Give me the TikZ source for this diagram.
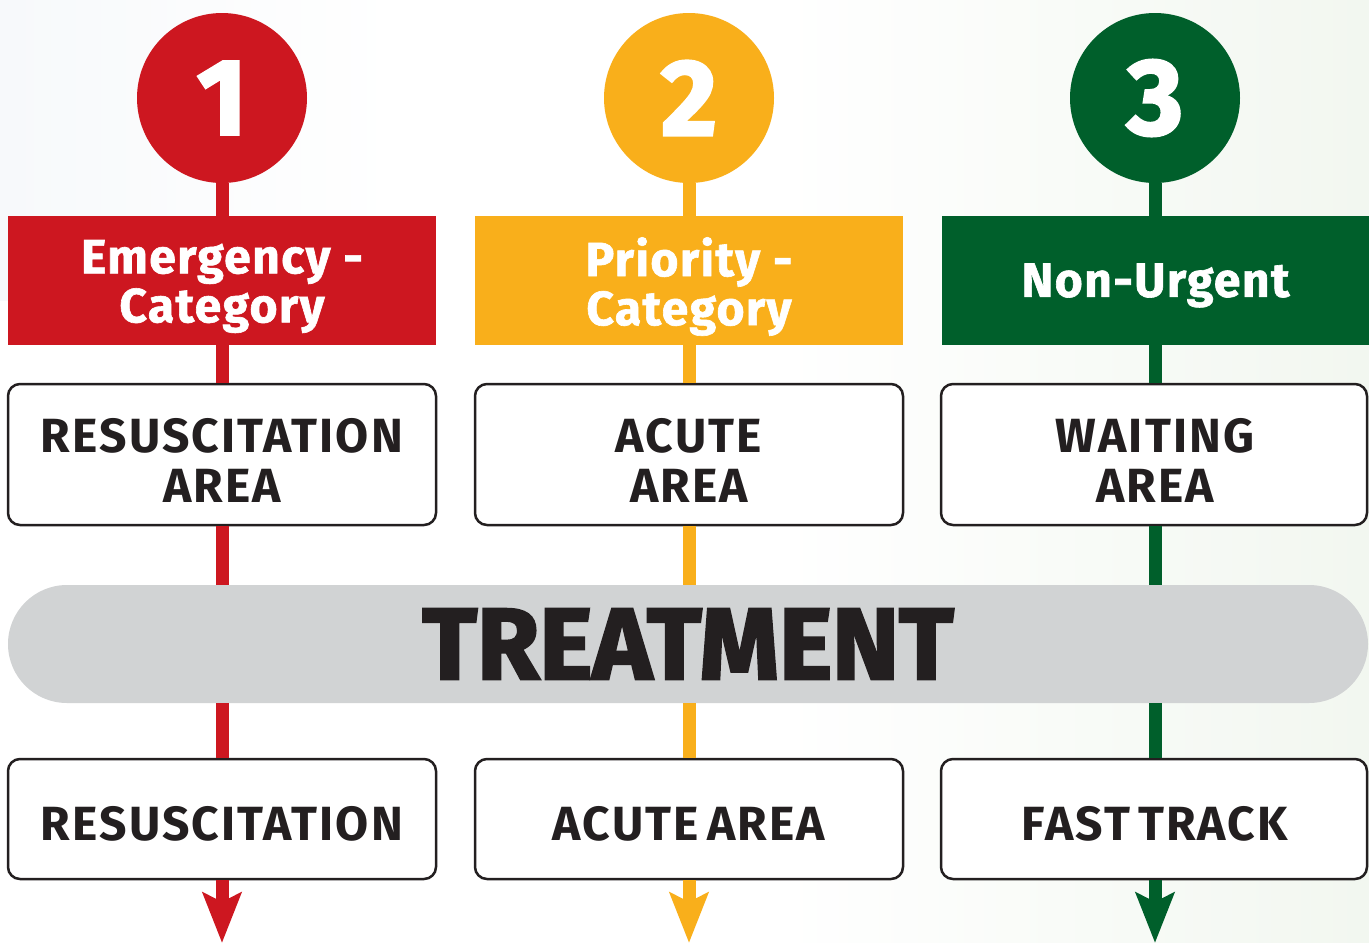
\documentclass[tikz,border=0pt]{standalone}
\usepackage{fontspec}
\setmainfont{Fira Sans}
\newfontfamily\heavyfont{Fira Sans}[BoldFeatures={FakeBold=2.5}]
\newfontfamily\headfont{Fira Sans}[LetterSpace=3, BoldFeatures={FakeBold=1.3}]
\newfontfamily\boxfont{Fira Sans}[LetterSpace=4.5, WordSpace=0.6]
\usetikzlibrary{arrows.meta}
\definecolor{cred}{HTML}{CD1720}
\definecolor{cyel}{HTML}{F9AF1B}
\definecolor{cgrn}{HTML}{005F2B}
\definecolor{cgray}{HTML}{D1D3D4}
\definecolor{ink}{HTML}{231F20}
\definecolor{bgr}{HTML}{F2F7F0}
\definecolor{bgb}{HTML}{F7F9FB}
\tikzset{
  numc/.style={circle, fill=#1, minimum size=170pt, inner sep=0pt, text=white,
    font=\heavyfont\bfseries\fontsize{108}{108}\selectfont},
  catbox/.style={rectangle, fill=#1, minimum width=428pt, minimum height=129pt, inner sep=0pt},
  cattext/.style={inner sep=0pt, text=white, align=center,
    font=\headfont\bfseries\fontsize{48}{49}\selectfont},
  areabox/.style={rectangle, draw=ink, line width=2.5pt, fill=white, rounded corners=12pt,
    minimum width=428pt, minimum height=141pt, inner sep=0pt},
  lastbox/.style={areabox, minimum width=426pt},
  botbox/.style={minimum height=120pt},
  boxtext/.style={inner sep=0pt, text=ink, align=center,
    font=\boxfont\bfseries\fontsize{48}{50}\selectfont},
  pill/.style={rectangle, fill=cgray, rounded corners=59pt, minimum width=1360pt,
    minimum height=118pt, inner sep=0pt, text=ink,
    font=\heavyfont\bfseries\fontsize{101}{101}\selectfont},
  conn/.style={draw=#1, line width=13pt},
  tipa/.style={-{Stealth[length=50pt,width=38pt,inset=9pt]}}
}
\begin{document}
\begin{tikzpicture}[x=1pt,y=-1pt]
\useasboundingbox (0,0) rectangle (1369,943);
\fill[white] (0,0) rectangle (1369,943);
\shade[left color=bgb, right color=white] (0,0) rectangle (400,300);
\shade[left color=white, right color=bgr] (780,0) rectangle (1369,943);

% treatment pill
\node[pill] (treat) at (688,644) {TREATMENT};

% column 1
\node[numc=cred] (n1) at (222,98) {1};
\node[catbox=cred] (cat1) at (222,280.5) {};
\node[cattext] (cat1t) at ([yshift=-6pt]cat1.center) {Emergency -\\Category};
\node[areabox] (area1) at (222,454.5) {};
\node[boxtext] (area1t) at ([yshift=-6pt]area1.center) {RESUSCITATION\\AREA};
\node[areabox, botbox] (bot1) at (222,819) {};
\node[boxtext] (bot1t) at ([yshift=-5pt]bot1.center) {RESUSCITATION};
\coordinate (tip1) at (222,943);

% column 2
\node[numc=cyel] (n2) at (689,98) {2};
\node[catbox=cyel] (cat2) at (689,280.5) {};
\node[cattext] (cat2t) at ([yshift=-6pt]cat2.center) {Priority -\\Category};
\node[areabox] (area2) at (689,454.5) {};
\node[boxtext] (area2t) at ([yshift=-6pt]area2.center) {ACUTE\\AREA};
\node[areabox, botbox] (bot2) at (689,819) {};
\node[boxtext] (bot2t) at ([yshift=-5pt]bot2.center) {ACUTE AREA};
\coordinate (tip2) at (689,943);

% column 3
\node[numc=cgrn] (n3) at (1155,98) {3};
\node[catbox=cgrn] (cat3) at (1155.5,280.5) {};
\node[cattext] (cat3t) at ([yshift=-5pt]cat3.center) {Non-Urgent};
\node[lastbox] (area3) at (1154,454.5) {};
\node[boxtext] (area3t) at ([yshift=-6pt]1155,454.5) {WAITING\\AREA};
\node[lastbox, botbox] (bot3) at (1154,819) {};
\node[boxtext] (bot3t) at ([yshift=-5pt]1155,819) {FAST TRACK};
\coordinate (tip3) at (1155,943);

% connectors
\foreach \i/\c in {1/cred,2/cyel,3/cgrn}{
  \draw[conn=\c] (n\i) -- (n\i |- cat\i.north);
  \draw[conn=\c] (n\i |- cat\i.south) -- (n\i |- area\i.north);
  \draw[conn=\c] (n\i |- area\i.south) -- (n\i |- treat.north);
  \draw[conn=\c] (n\i |- treat.south) -- (n\i |- bot\i.north);
  \draw[conn=\c, tipa] (n\i |- bot\i.south) -- (tip\i);
}
\end{tikzpicture}
\end{document}
